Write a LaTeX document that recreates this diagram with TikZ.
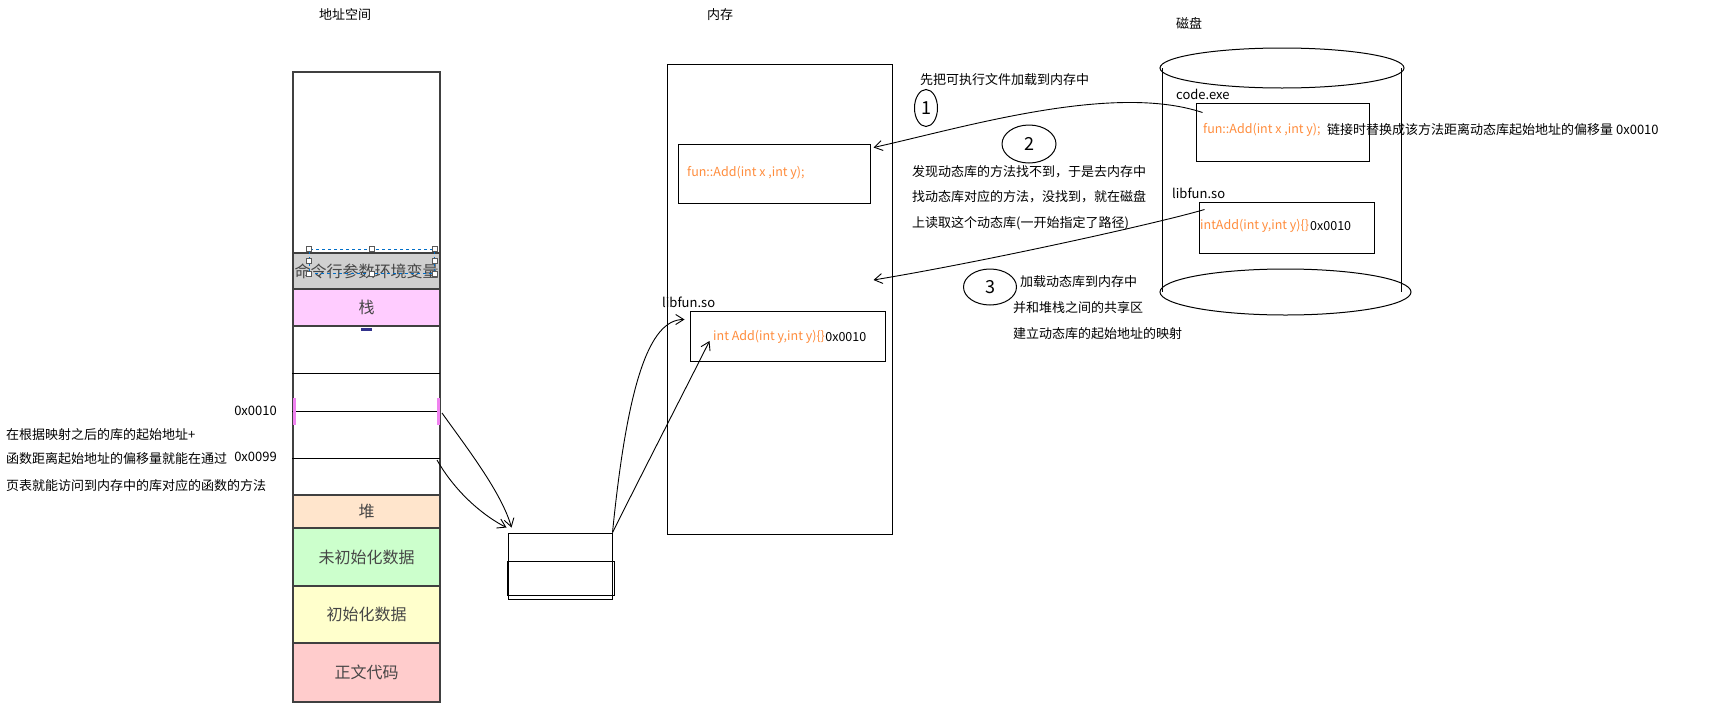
\documentclass[tikz,border=0pt]{standalone}
\usepackage{fontspec}
\setmainfont{Noto Sans CJK SC}
\usepackage{xcolor}
\usetikzlibrary{arrows.meta,positioning,shapes.geometric}
\definecolor{segline}{RGB}{64,64,64}
\definecolor{segtext}{RGB}{70,70,70}
\definecolor{cmdgray}{RGB}{208,208,208}
\definecolor{stackpink}{RGB}{255,204,255}
\definecolor{heappeach}{RGB}{255,229,204}
\definecolor{bssgreen}{RGB}{204,255,204}
\definecolor{datayellow}{RGB}{255,255,204}
\definecolor{textred}{RGB}{255,204,204}
\definecolor{codeorange}{RGB}{255,140,60}
\definecolor{markpink}{RGB}{240,130,240}
\definecolor{markblue}{RGB}{50,50,140}
\definecolor{selblue}{RGB}{0,110,200}

\begin{document}
\begin{tikzpicture}[x=1pt, y=-1pt,
  seg/.style={draw=segline, line width=2pt, fill=#1, minimum width=147pt,
              inner sep=0pt, font=\fontsize{16}{18}\selectfont, text=segtext},
  box/.style={draw, line width=1pt, inner sep=0pt},
  note/.style={anchor=west, inner sep=0pt, font=\fontsize{13}{15}\selectfont},
  code/.style={anchor=west, inner sep=0pt, font=\fontsize{12.5}{15}\selectfont},
  orange/.style={code, text=codeorange},
  title/.style={inner sep=0pt, font=\fontsize{13}{15}\selectfont},
  hand/.style={line width=0.9pt, -{Straight Barb[length=8pt,width=10pt]}},
  num/.style={draw, ellipse, line width=1pt, inner sep=0pt,
              font=\fontsize{18}{20}\selectfont},
  handle/.style={draw=gray!70!black, fill=white, line width=0.6pt,
                 minimum size=5pt, inner sep=0pt},
]
\useasboundingbox (0,0) rectangle (1732,715);

% 地址空间
\node[title] (astitle) at (345,15) {地址空间};
\node[draw=segline, line width=2pt, minimum width=147pt, minimum height=630pt,
      inner sep=0pt] (col) at (366.5,387) {};
\node[seg=cmdgray, minimum height=36pt] (cmd) at (366.5,271) {命令行参数环境变量};
\node[seg=stackpink, minimum height=37pt] (stack) at (366.5,307.5) {栈};
\node[seg=heappeach, minimum height=33pt] (heap) at (366.5,511.5) {堆};
\node[seg=bssgreen, minimum height=58pt] (bss) at (366.5,557) {未初始化数据};
\node[seg=datayellow, minimum height=57pt] (data) at (366.5,614.5) {初始化数据};
\node[seg=textred, minimum height=59pt] (text) at (366.5,672.5) {正文代码};

\node[draw=selblue, dashed, line width=0.8pt, minimum width=125pt,
      minimum height=24pt, inner sep=0pt] (sel) at (371.5,261) {};
\foreach \a in {north west,north,north east,west,east,south west,south,south east}
  \node[handle] at (sel.\a) {};
\fill[markblue] (361,328) rectangle (372,331);

\coordinate (lmid) at (440,373);
\coordinate (l10) at (440,411);
\coordinate (l99) at (440,458);
\draw[line width=1pt] (col.west |- lmid) -- (lmid);
\draw[line width=1pt] (col.west |- l10) -- (l10);
\draw[line width=1pt] (col.west |- l99) -- (l99);
\fill[markpink] (293,398) rectangle (296,425);
\fill[markpink] (437,398) rectangle (440,425);

\node[note, anchor=east] (a10) at (277,411) {0x0010};
\node[note, anchor=east] (a99) at (277,457) {0x0099};
\node[note] (m1) at (6,435) {在根据映射之后的库的起始地址+};
\node[note] (m2) at (6,459) {函数距离起始地址的偏移量就能在通过};
\node[note] (m3) at (6,486) {页表就能访问到内存中的库对应的函数的方法};

% 页表
\node[box, minimum width=104pt, minimum height=66pt] (frame) at (560,566) {};
\node[box, minimum width=107pt, minimum height=34pt] (page) at (560.5,578) {};

% 内存
\node[title] (memtitle) at (720,15) {内存};
\node[box, minimum width=225pt, minimum height=470pt] (mem) at (779.5,299) {};
\node[box, minimum width=192pt, minimum height=59pt] (funbox) at (774,173.5) {};
\node[orange] (funtxt) at (687,173) {fun::Add(int x ,int y);};
\node[box, minimum width=195pt, minimum height=50pt] (libbox) at (787.5,336) {};
\node[note] (liblbl) at (662,302) {libfun.so};
\node[orange] (libtxt) at (713,337) {int Add(int y,int y)\{\}};
\node[code, right=0pt of libtxt] (liboff) {0x0010};

% 磁盘
\node[title] (disktitle) at (1189,23) {磁盘};
\node[draw, ellipse, line width=1pt, minimum width=244pt, minimum height=40pt,
      inner sep=0pt] (disktop) at (1282,68) {};
\node[draw, ellipse, line width=1pt, minimum width=251pt, minimum height=46pt,
      inner sep=0pt] (diskbot) at (1285.5,292) {};
\draw[line width=1pt] ([xshift=3pt]disktop.west) -- ([xshift=3pt]disktop.west |- diskbot.center);
\draw[line width=1pt] ([xshift=-3pt]disktop.east) -- ([xshift=-3pt]disktop.east |- diskbot.center);
\node[note] (codelbl) at (1176,94) {code.exe};
\node[box, minimum width=173pt, minimum height=58pt] (codebox) at (1282.5,132) {};
\node[orange] (codetxt) at (1203,130) {fun::Add(int x ,int y);};
\node[note] (linknote) at (1327,130) {链接时替换成该方法距离动态库起始地址的偏移量 0x0010};
\node[note] (dliblbl) at (1172,193) {libfun.so};
\node[box, minimum width=175pt, minimum height=51pt] (dlibbox) at (1286.5,227.5) {};
\node[orange] (dlibtxt) at (1200,226) {intAdd(int y,int y)\{\}};
\node[code] (dliboff) at (1310,226) {0x0010};

% 步骤说明
\node[note] (s1) at (920,80) {先把可执行文件加载到内存中};
\node[note] (s2a) at (912,172) {发现动态库的方法找不到，于是去内存中};
\node[note] (s2b) at (912,197) {找动态库对应的方法，没找到，就在磁盘};
\node[note] (s2c) at (912,223) {上读取这个动态库(一开始指定了路径)};
\node[note] (s3a) at (1020,282) {加载动态库到内存中};
\node[note] (s3b) at (1013,308) {并和堆栈之间的共享区};
\node[note] (s3c) at (1013,334) {建立动态库的起始地址的映射};
\node[num, minimum width=23pt, minimum height=37pt] (one) at (926,108) {1};
\node[num, minimum width=54pt, minimum height=38pt] (two) at (1029,144) {2};
\node[num, minimum width=53pt, minimum height=36pt] (three) at (990,287) {3};

% 连线
\draw[hand] ([shift={(7,10)}]codebox.north west) .. controls +(-90,-30) and +(90,-20) .. ([shift={(3,4)}]funbox.north east);
\draw[hand] ([shift={(6,8)}]dlibbox.north west) .. controls +(-40,12) and +(120,-20) .. ([shift={(-19,-19)}]mem.east);
\draw[hand] ([shift={(2,2)}]l10) .. controls +(25,35) and +(-10,-35) .. ([shift={(4,-5)}]frame.north west);
\draw[hand] ([shift={(-3,2)}]l99) .. controls +(20,35) and +(-20,-10) .. ([shift={(-1,-5)}]frame.north west);
\draw[hand] (frame.north east) .. controls +(15,-150) and +(-35,0) .. ([shift={(-5,9)}]libbox.north west);
\draw[hand] (frame.north east) .. controls +(30,-60) and +(-20,40) .. ([shift={(20,5)}]libbox.west);
\end{tikzpicture}
\end{document}
